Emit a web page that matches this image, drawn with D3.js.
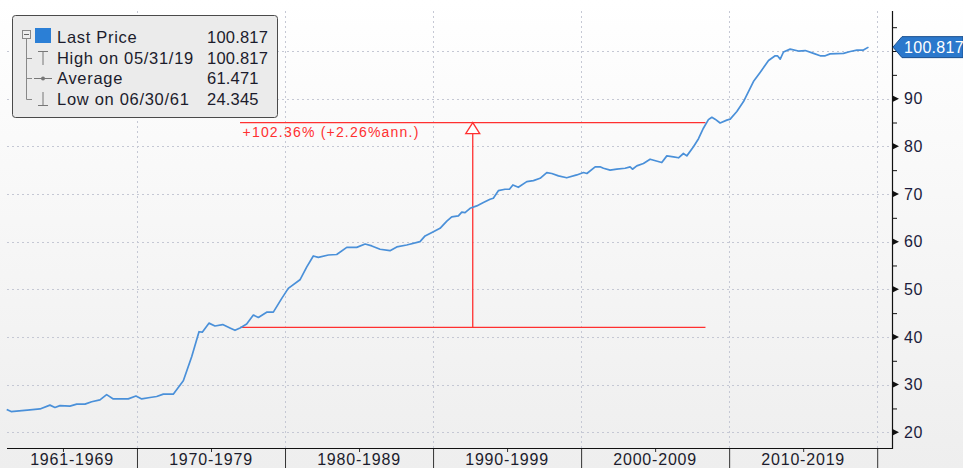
<!DOCTYPE html>
<html>
<head>
<meta charset="utf-8">
<script src="https://cdn.jsdelivr.net/npm/d3@7"></script>
<style>
  html, body { margin: 0; padding: 0; overflow: hidden; }
  body { width: 963px; height: 468px; }
  text { font-family: "Liberation Sans", Arial, sans-serif; }
</style>
</head>
<body>
<div id="chart"></div>
<script>
// price series (decimal year, level)
var years = [1961.2, 1961.5, 1962.77, 1963.45, 1964.12, 1964.46, 1964.8, 1965.47, 1965.93, 1966.49,
  1966.94, 1967.5, 1967.95, 1968.4, 1969.41, 1969.93, 1970.32, 1970.88, 1971.33, 1971.78,
  1972.45, 1973.13, 1973.7, 1974.19, 1974.41, 1974.86, 1975.27, 1975.79, 1976.28, 1976.62,
  1976.96, 1977.41, 1977.86, 1978.2, 1978.76, 1979.21, 1979.78, 1980.22, 1981.01, 1981.47,
  1981.91, 1982.25, 1982.93, 1983.49, 1984.17, 1984.84, 1985.41, 1985.86, 1986.42, 1987.09,
  1987.55, 1988.22, 1989.12, 1989.46, 1990.02, 1990.47, 1990.93, 1991.26, 1991.71, 1991.94,
  1992.16, 1992.5, 1992.95, 1993.4, 1993.85, 1994.07, 1994.41, 1994.86, 1995.16, 1995.39,
  1995.76, 1996.33, 1996.78, 1997.23, 1997.68, 1998.02, 1998.47, 1999.03, 1999.71, 2000.16,
  2000.39, 2000.95, 2001.28, 2001.51, 2001.96, 2002.41, 2002.97, 2003.31, 2003.47, 2003.76,
  2004.21, 2004.66, 2005.45, 2005.79, 2006.24, 2006.58, 2006.91, 2007.14, 2007.59, 2007.93,
  2008.26, 2008.6, 2008.83, 2009.05, 2009.39, 2009.84, 2010.07, 2010.52, 2010.97, 2011.64,
  2012.09, 2012.66, 2013.11, 2013.26, 2013.45, 2013.67, 2014.12, 2014.68, 2015.14, 2015.7,
  2016.15, 2016.49, 2016.82, 2017.72, 2018.18, 2018.63, 2019.07, 2019.41];
var prices = [24.8, 24.345, 24.7, 24.9, 25.7, 25.2, 25.6, 25.5, 25.9, 25.9,
  26.4, 26.8, 27.9, 27.0, 27.0, 27.6, 27.0, 27.3, 27.5, 28.0,
  28.0, 30.8, 35.9, 41.1, 41.0, 42.9, 42.3, 42.6, 41.9, 41.4,
  41.9, 42.7, 44.6, 44.1, 45.2, 45.2, 48.1, 50.2, 52.0, 54.7,
  57.0, 56.7, 57.2, 57.3, 58.8, 58.8, 59.5, 59.1, 58.4, 58.1,
  58.9, 59.3, 60.0, 61.2, 62.1, 62.8, 64.3, 65.2, 65.4, 66.2,
  66.1, 67.0, 67.5, 68.2, 68.9, 69.1, 70.7, 71.0, 71.0, 71.9,
  71.4, 72.6, 72.8, 73.3, 74.5, 74.3, 73.8, 73.4, 74.0, 74.5,
  74.3, 75.7, 75.7, 75.4, 75.0, 75.2, 75.4, 75.7, 75.2, 75.9,
  76.4, 77.3, 76.6, 78.0, 77.8, 77.6, 78.5, 78.0, 79.9, 81.6,
  83.8, 85.6, 86.1, 85.7, 84.9, 85.5, 85.7, 87.3, 89.4, 93.6,
  95.5, 98.0, 99.0, 99.0, 98.3, 99.8, 100.4, 100.0, 100.1, 99.5,
  99.0, 99.0, 99.4, 99.5, 99.9, 100.2, 100.2, 100.817];

var yTicks = [20, 30, 40, 50, 60, 70, 80, 90];
var yMinorTicks = [25, 35, 45, 55, 65, 75, 85, 95, 100, 105];
var decadeStarts = [1961, 1970, 1980, 1990, 2000, 2010];
var decadeLabels = ["1961-1969", "1970-1979", "1980-1989", "1990-1999", "2000-2009", "2010-2019"];
var decadeBreaks = [1970, 1980, 1990, 2000, 2010, 2020];
var midTicks = [1965, 1975, 1985, 1995, 2005, 2015];

var legendLabels = ["Last Price", "High on 05/31/19", "Average", "Low on 06/30/61"];
var legendValues = ["100.817", "100.817", "61.471", "24.345"];

// change annotation
var annoYears = [1976.96, 2008.4];
var annoLevels = [42.0, 84.99];
var annoText = "+102.36% (+2.26%ann.)";
var lastPrice = 100.817;

var W = 963, H = 468;
var plot = { left: 7, right: 892, top: 11, bottom: 448 };
var lineColor = "#4a90d9", red = "#ff3030", gridColor = "#c5c8d4";

var svg = d3.select("#chart").append("svg")
  .attr("width", W).attr("height", H);

var defs = svg.append("defs");
var grad = defs.append("linearGradient").attr("id", "bg")
  .attr("x1", 0).attr("y1", 0).attr("x2", 0).attr("y2", 1);
grad.append("stop").attr("offset", "0%").attr("stop-color", "#ffffff");
grad.append("stop").attr("offset", "100%").attr("stop-color", "#eeeeee");
svg.append("rect").attr("width", W).attr("height", H).attr("fill", "url(#bg)");

var x = d3.scaleLinear().domain([1961.22, 2021.0]).range([plot.left, plot.right]);
var y = d3.scaleLinear().domain([16.7, 108.4]).range([plot.bottom, plot.top]);

// grid
var grid = svg.append("g");
grid.selectAll("line.h").data(yTicks.concat([100])).enter().append("line")
  .attr("x1", plot.left).attr("x2", plot.right)
  .attr("y1", function(d) { return Math.round(y(d)) + 0.5; })
  .attr("y2", function(d) { return Math.round(y(d)) + 0.5; })
  .attr("stroke", gridColor).attr("stroke-dasharray", "2,3");
grid.selectAll("line.v").data(decadeBreaks).enter().append("line")
  .attr("x1", function(d) { return Math.round(x(d)) + 0.5; })
  .attr("x2", function(d) { return Math.round(x(d)) + 0.5; })
  .attr("y1", plot.top).attr("y2", plot.bottom)
  .attr("stroke", gridColor).attr("stroke-dasharray", "2,3");

// annotation
var anno = svg.append("g").attr("stroke", red).attr("stroke-width", 1.3).attr("fill", "none");
var midX = (x(annoYears[0]) + x(annoYears[1])) / 2;
var topY = y(annoLevels[1]);
anno.selectAll("line.lvl").data(annoLevels).enter().append("line")
  .attr("x1", x(annoYears[0])).attr("x2", x(annoYears[1]))
  .attr("y1", function(d) { return y(d); }).attr("y2", function(d) { return y(d); });
anno.append("line").attr("x1", midX).attr("x2", midX)
  .attr("y1", y(annoLevels[0])).attr("y2", topY + 11);
anno.append("path")
  .attr("d", "M" + midX + "," + topY + "L" + (midX - 7) + "," + (topY + 11) +
    "L" + (midX + 7) + "," + (topY + 11) + "Z")
  .attr("fill", "#fff");
svg.append("text").attr("x", x(annoYears[0]) + 2.5).attr("y", topY + 14)
  .attr("fill", red).style("font-size", "14px").style("letter-spacing", "1.2px")
  .text(annoText);

// price line
var line = d3.line()
  .x(function(d, i) { return x(years[i]); })
  .y(function(d) { return y(d); });
svg.append("path").datum(prices)
  .attr("d", line)
  .attr("fill", "none").attr("stroke", lineColor).attr("stroke-width", 1.7)
  .attr("stroke-linejoin", "round");

// right axis
var yAxis = svg.append("g").attr("transform", "translate(" + plot.right + ",0)")
  .call(d3.axisRight(y).tickValues(yTicks).tickSize(0).tickPadding(12));
yAxis.select(".domain").remove();
yAxis.selectAll("text").style("font-size", "16px").attr("fill", "#1c1c3c")
  .style("letter-spacing", "0.5px")
  .style("font-family", "Liberation Sans, Arial, sans-serif");
var yMinor = svg.append("g").attr("transform", "translate(" + plot.right + ",0)")
  .call(d3.axisRight(y).tickValues(yMinorTicks).tickSize(5).tickFormat(""));
yMinor.select(".domain").remove();
yMinor.selectAll("line").attr("stroke", "#111");
svg.append("g").selectAll("path").data(yTicks).enter().append("path")
  .attr("d", function(d) {
    var yy = y(d);
    return "M" + plot.right + "," + (yy - 3.5) + "L" + (plot.right + 7) + "," + yy +
      "L" + plot.right + "," + (yy + 3.5) + "Z";
  })
  .attr("fill", "#111");
svg.append("line").attr("x1", plot.right + 0.5).attr("x2", plot.right + 0.5)
  .attr("y1", plot.top).attr("y2", plot.bottom + 1).attr("stroke", "#111").attr("stroke-width", 1.2);

// bottom axis
var xAxis = svg.append("g").attr("transform", "translate(0," + plot.bottom + ")")
  .call(d3.axisBottom(x).tickValues(decadeBreaks).tickSize(22).tickFormat(""));
xAxis.select(".domain").remove();
xAxis.selectAll("line").attr("stroke", "#333");
var xMid = svg.append("g").attr("transform", "translate(0," + plot.bottom + ")")
  .call(d3.axisBottom(x).tickValues(midTicks).tickSize(4).tickFormat(""));
xMid.select(".domain").remove();
xMid.selectAll("line").attr("stroke", "#333");
svg.append("line").attr("x1", plot.left).attr("x2", plot.right + 1)
  .attr("y1", plot.bottom + 0.5).attr("y2", plot.bottom + 0.5)
  .attr("stroke", "#111").attr("stroke-width", 1.2);
svg.append("g").selectAll("text").data(decadeLabels).enter().append("text")
  .attr("x", function(d, i) {
    var a = Math.max(decadeStarts[i], x.domain()[0]);
    return x((a + decadeBreaks[i]) / 2);
  })
  .attr("y", 465)
  .attr("text-anchor", "middle")
  .attr("fill", "#1c1c2c")
  .style("font-size", "16px").style("letter-spacing", "0.8px")
  .text(function(d) { return d; });

// last price tag
var tagY = y(lastPrice);
svg.append("path")
  .attr("d", "M" + (plot.right + 1) + "," + tagY + "L" + (plot.right + 10) + "," + (tagY - 10.5) +
    "L" + W + "," + (tagY - 10.5) + "L" + W + "," + (tagY + 10.5) +
    "L" + (plot.right + 10) + "," + (tagY + 10.5) + "Z")
  .attr("fill", "#2b78cc").attr("stroke", "#1a4f8f");
svg.append("text").attr("x", plot.right + 12).attr("y", tagY + 6)
  .attr("fill", "#fff").style("font-size", "16px").style("letter-spacing", "0.3px")
  .text(d3.format(".3f")(lastPrice));

// legend
var lg = svg.append("g").attr("transform", "translate(12,15)");
lg.append("rect").attr("x", 0.5).attr("y", 0.5).attr("width", 265).attr("height", 102)
  .attr("rx", 3).attr("fill", "#ebebeb").attr("stroke", "#4a4a4a");
var rowY = [22, 43, 63, 84];
// tree
lg.append("line").attr("x1", 14.5).attr("x2", 14.5).attr("y1", 23).attr("y2", rowY[3] + 0.5)
  .attr("stroke", "#888");
lg.selectAll("line.br").data(rowY.slice(1)).enter().append("line")
  .attr("x1", 14.5).attr("x2", 20).attr("y1", function(d) { return d + 0.5; })
  .attr("y2", function(d) { return d + 0.5; }).attr("stroke", "#888");
lg.append("rect").attr("x", 10.5).attr("y", 15.5).attr("width", 8).attr("height", 8)
  .attr("fill", "#eee").attr("stroke", "#888");
lg.append("line").attr("x1", 12).attr("x2", 17).attr("y1", 19.5).attr("y2", 19.5).attr("stroke", "#666");
lg.append("rect").attr("x", 23).attr("y", 13).attr("width", 16).attr("height", 15).attr("fill", "#2b7fd6");
// high marker
lg.append("path").attr("d", "M26," + (rowY[1] - 6.5) + "H36M31," + (rowY[1] - 6.5) + "V" + (rowY[1] + 7))
  .attr("stroke", "#777").attr("fill", "none");
// average marker
lg.append("line").attr("x1", 22).attr("x2", 40).attr("y1", rowY[2] + 0.5).attr("y2", rowY[2] + 0.5).attr("stroke", "#777");
lg.append("circle").attr("cx", 31).attr("cy", rowY[2] + 0.5).attr("r", 2).attr("fill", "#777");
// low marker
lg.append("path").attr("d", "M26," + (rowY[3] + 6.5) + "H36M31," + (rowY[3] + 6.5) + "V" + (rowY[3] - 7))
  .attr("stroke", "#777").attr("fill", "none");
lg.selectAll("text.lab").data(legendLabels).enter().append("text")
  .attr("x", 45).attr("y", function(d, i) { return rowY[i] + 6; })
  .attr("fill", "#1c1c2c").style("font-size", "16.5px").style("letter-spacing", "0.7px")
  .text(function(d) { return d; });
lg.selectAll("text.val").data(legendValues).enter().append("text")
  .attr("x", 195).attr("y", function(d, i) { return rowY[i] + 6; })
  .attr("fill", "#1c1c2c").style("font-size", "16.5px").style("letter-spacing", "0.2px")
  .text(function(d) { return d; });
</script>
</body>
</html>
